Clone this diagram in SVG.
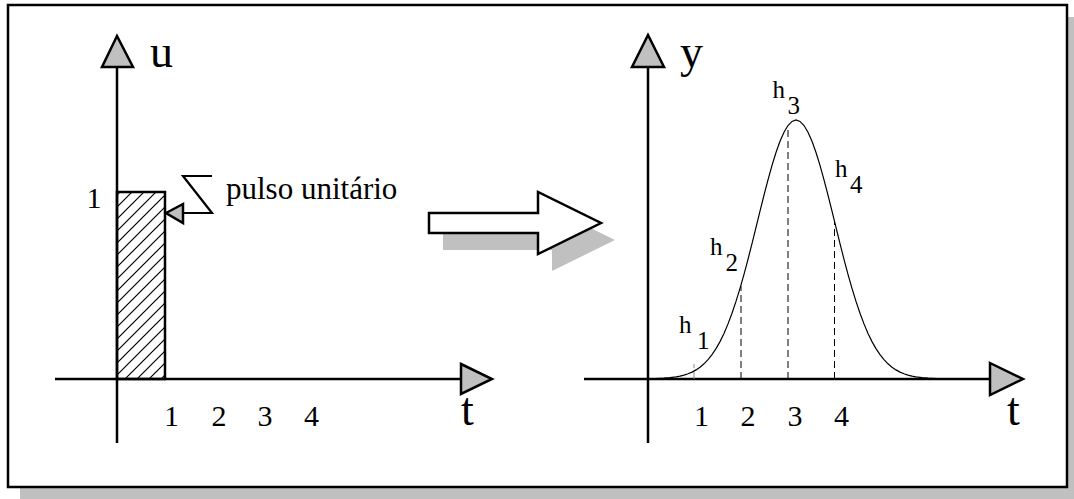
<svg xmlns="http://www.w3.org/2000/svg" width="1074" height="499" viewBox="0 0 1074 499">
<style>
.axis{stroke:#000;stroke-width:2.5;fill:none}
.head{fill:#c0c0c0;stroke:#000;stroke-width:2.5;stroke-linejoin:miter}
.lbl{font-family:"Liberation Serif","Times New Roman",serif;fill:#000}
.big{font-size:46px}
.num{font-size:30px;text-anchor:middle}
.h{font-size:25px}
.dash{stroke:#000;stroke-width:1;stroke-dasharray:7 4;fill:none}
</style>
<defs>
<pattern id="hatch" patternUnits="userSpaceOnUse" width="12" height="12">
<path d="M-3,3 L3,-3 M0,12 L12,0 M9,15 L15,9" stroke="#000" stroke-width="1.2"/>
</pattern>
</defs>
<g id="frame">
<rect x="20" y="17" width="1054" height="482" fill="#c0c0c0"/>
<rect x="8" y="5" width="1059" height="482" fill="#fff" stroke="#000" stroke-width="2.5"/>
</g>
<g id="left-graph">
<rect id="pulse" x="117" y="192" width="48" height="187" fill="url(#hatch)" stroke="#000" stroke-width="2.5"/>
<line class="axis" x1="117" y1="443" x2="117" y2="67"/>
<polygon class="head" points="117,36 102,67 133,67"/>
<line class="axis" x1="55" y1="379" x2="461" y2="379"/>
<polygon class="head" points="461,364 492,379 461,394"/>
<text class="lbl big" x="150" y="67">u</text>
<text class="lbl big" x="461" y="425">t</text>
<text class="lbl num" x="94" y="208">1</text>
<text class="lbl num" x="171.5" y="426">1</text>
<text class="lbl num" x="219" y="426">2</text>
<text class="lbl num" x="265" y="426">3</text>
<text class="lbl num" x="311.5" y="426">4</text>
</g>
<g id="callout">
<path d="M183,213 L212,213 L183,176 L212,176" fill="none" stroke="#000" stroke-width="2.2"/>
<polygon class="head" points="166,213 183,204 183,223" stroke-width="2"/>
<text class="lbl" x="226" y="199" font-size="31">pulso unitário</text>
</g>
<g id="big-arrow">
<polygon points="443,230 552,230 552,209 615,240 552,271 552,250 443,250" fill="#c0c0c0"/>
<polygon points="429,213 538,213 538,192 601,223 538,254 538,233 429,233" fill="#fff" stroke="#000" stroke-width="2.5"/>
</g>
<g id="right-graph">
<line class="axis" x1="648" y1="443" x2="648" y2="67"/>
<polygon class="head" points="648,35 632,67 664,67"/>
<line class="axis" x1="584" y1="379" x2="990" y2="379"/>
<polygon class="head" points="990,363 1023,379 990,395"/>
<text class="lbl big" x="680" y="67">y</text>
<text class="lbl big" x="1007" y="425">t</text>
<text class="lbl num" x="701.5" y="426">1</text>
<text class="lbl num" x="748" y="426">2</text>
<text class="lbl num" x="795" y="426">3</text>
<text class="lbl num" x="841.5" y="426">4</text>
</g>
<g id="connectors">
<line x1="694" y1="379" x2="694" y2="364" stroke="#888" stroke-width="1" stroke-dasharray="7 4"/>
<line class="dash" x1="741" y1="379" x2="741" y2="286"/>
<line class="dash" x1="788" y1="379" x2="788" y2="127"/>
<line class="dash" x1="834.5" y1="379" x2="834.5" y2="221"/>
<polyline fill="none" stroke="#000" stroke-width="1.2" points="648,378.85 656,378.6 664,378.2 670,377.7 676,376.9 680,376.1 684,375.1 688,373.8 692,372.1 696,369.9 700,367.2 704,363.8 708,359.6 712,354.6 716,348.6 720,341.6 724,333.4 728,323.9 732,313.3 736,301.4 740,288.4 744,274.3 748,259.3 752,243.6 756,227.4 760,211.2 764,195.2 768,179.8 772,165.4 776,152.5 780,141.3 784,132.2 788,125.5 792,121.4 796,120 800,121.4 804,125.5 808,132.2 812,141.3 816,152.5 820,165.4 824,179.8 828,195.2 832,211.2 836,227.4 840,243.6 844,259.3 848,274.3 852,288.4 856,301.4 860,313.3 864,323.9 868,333.4 872,341.6 876,348.6 880,354.6 884,359.6 888,363.8 892,367.2 896,369.9 900,372.1 904,373.8 908,375.1 912,376.1 916,376.9 922,377.7 928,378.2 936,378.6 944,378.85"/>
</g>
<g id="h-labels">
<text class="lbl h" x="679" y="333">h<tspan x="697" y="349">1</tspan></text>
<text class="lbl h" x="710" y="255">h<tspan x="725.5" y="271">2</tspan></text>
<text class="lbl h" x="772.5" y="98">h<tspan x="787.5" y="114">3</tspan></text>
<text class="lbl h" x="835" y="177">h<tspan x="850" y="193">4</tspan></text>
</g>
</svg>
